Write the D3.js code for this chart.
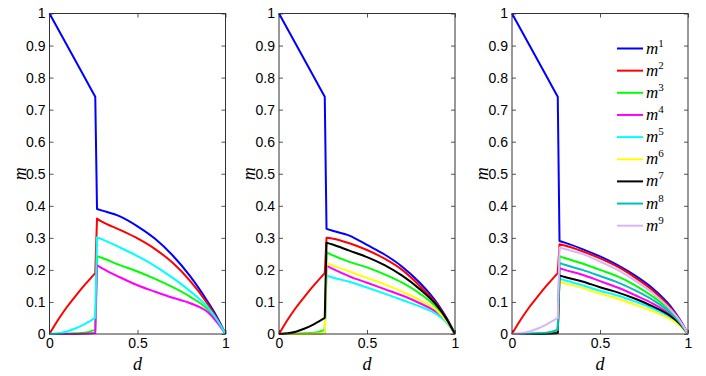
<!DOCTYPE html>
<html>
<head>
<meta charset="utf-8">
<script src="https://cdn.jsdelivr.net/npm/d3@7"></script>
<style>
  body { margin: 0; background: #fff; }
  svg { display: block; }
  .tick text { font-family: "Liberation Sans", Arial, sans-serif; font-size: 14px; fill: #000; }
  .lab { font-family: "Liberation Serif", "DejaVu Serif", serif; font-style: italic; font-size: 18px; }
  .leg { font-family: "Liberation Serif", "DejaVu Serif", serif; font-style: italic; font-size: 17px; }
</style>
</head>
<body>
<svg id="chart" width="706" height="376"></svg>
<script>
// ось d: до скачка и после
const dPre = [0, 0.05, 0.1, 0.15, 0.2, 0.26];
const dPost = [0.27, 0.3, 0.4, 0.5, 0.6, 0.7, 0.8, 0.9, 0.95, 1];
const xTicks = [0, 0.5, 1];
const yTicks = [0, 0.1, 0.2, 0.3, 0.4, 0.5, 0.6, 0.7, 0.8, 0.9, 1];

// общие начала кривых (до скачка)
const m1Pre = [1, 0.95, 0.9, 0.85, 0.8, 0.74];
const m2Pre = [0, 0.045, 0.085, 0.12, 0.153, 0.19];
const lowPre = [0, 0.002, 0.008, 0.018, 0.031, 0.05];
const flatPre = [0, 0, 0.001, 0.002, 0.004, 0.013];
const zeroPre = [0, 0, 0, 0, 0.001, 0.003];

// панель 1
const p1m1 = [0.39, 0.385, 0.367, 0.336, 0.297, 0.245, 0.18, 0.1, 0.055, 0];
const p1m2 = [0.36, 0.35, 0.325, 0.298, 0.265, 0.222, 0.165, 0.093, 0.05, 0];
const p1m3 = [0.243, 0.237, 0.215, 0.195, 0.172, 0.146, 0.116, 0.076, 0.043, 0];
const p1m4 = [0.215, 0.205, 0.177, 0.152, 0.132, 0.113, 0.096, 0.068, 0.038, 0];
const p1m5 = [0.302, 0.295, 0.27, 0.243, 0.212, 0.175, 0.133, 0.083, 0.046, 0];

// панель 2
const p2m1 = [0.328, 0.323, 0.307, 0.278, 0.248, 0.21, 0.16, 0.095, 0.052, 0];
const p2m2 = [0.3, 0.298, 0.283, 0.262, 0.235, 0.2, 0.15, 0.09, 0.05, 0];
const p2m3 = [0.255, 0.247, 0.225, 0.208, 0.186, 0.16, 0.126, 0.08, 0.045, 0];
const p2m4 = [0.213, 0.205, 0.18, 0.16, 0.14, 0.12, 0.096, 0.066, 0.04, 0];
const p2m5 = [0.183, 0.177, 0.163, 0.145, 0.126, 0.106, 0.086, 0.06, 0.037, 0];
const p2m6 = [0.222, 0.215, 0.195, 0.175, 0.155, 0.132, 0.106, 0.072, 0.042, 0];
const p2m7 = [0.285, 0.28, 0.26, 0.24, 0.215, 0.182, 0.14, 0.087, 0.048, 0];

// панель 3
const p3m1 = [0.29, 0.285, 0.265, 0.242, 0.215, 0.182, 0.142, 0.087, 0.048, 0];
const p3m2 = [0.28, 0.276, 0.258, 0.236, 0.21, 0.176, 0.136, 0.082, 0.046, 0];
const p3m3 = [0.243, 0.237, 0.22, 0.2, 0.18, 0.152, 0.117, 0.072, 0.041, 0];
const p3m4 = [0.205, 0.2, 0.185, 0.165, 0.145, 0.121, 0.095, 0.06, 0.035, 0];
const p3m5 = [0.172, 0.168, 0.152, 0.135, 0.12, 0.101, 0.08, 0.051, 0.03, 0];
const p3m6 = [0.163, 0.158, 0.144, 0.126, 0.11, 0.091, 0.071, 0.046, 0.028, 0];
const p3m7 = [0.183, 0.178, 0.164, 0.146, 0.13, 0.11, 0.086, 0.056, 0.033, 0];
const p3m8 = [0.222, 0.216, 0.2, 0.181, 0.161, 0.136, 0.106, 0.066, 0.038, 0];
const p3m9 = [0.27, 0.265, 0.25, 0.226, 0.2, 0.166, 0.127, 0.077, 0.044, 0];

const colors = ["#0000ff", "#ff0000", "#00ff00", "#ff00ff", "#00ffff", "#ffff00", "#000000", "#00bfbf", "#d8b4fc"];
const legendNames = ["1", "2", "3", "4", "5", "6", "7", "8", "9"];

const panels = [
  { left: 49.5, series: [[m1Pre, p1m1], [m2Pre, p1m2], [flatPre, p1m3], [zeroPre, p1m4], [lowPre, p1m5]] },
  { left: 279, series: [[m1Pre, p2m1], [m2Pre, p2m2], [flatPre, p2m3], [zeroPre, p2m4], [zeroPre, p2m5], [zeroPre, p2m6], [lowPre, p2m7]] },
  { left: 512, series: [[m1Pre, p3m1], [m2Pre, p3m2], [flatPre, p3m3], [zeroPre, p3m4], [zeroPre, p3m5], [zeroPre, p3m6], [zeroPre, p3m7], [flatPre, p3m8], [lowPre, p3m9]] }
];

const width = 176, height = 320.5, topY = 13.5;
const svg = d3.select("#chart");

const x = d3.scaleLinear().domain([0, 1]).range([0, width]);
const y = d3.scaleLinear().domain([0, 1]).range([height, 0]);

const line = d3.line()
  .x((d) => x(d.d))
  .y((d) => y(d.m))
  .curve(d3.curveMonotoneX);

panels.forEach((p, pi) => {
  const g = svg.append("g").attr("transform", `translate(${p.left},${topY})`);

  // оси в стиле MATLAB: засечки внутрь
  g.append("g").attr("transform", `translate(0,${height})`)
    .call(d3.axisBottom(x).tickValues(xTicks).tickSizeInner(-4).tickSizeOuter(0).tickPadding(4).tickFormat(d3.format("")));
  g.append("g")
    .call(d3.axisTop(x).tickValues(xTicks).tickSizeInner(-4).tickSizeOuter(0).tickFormat(""));
  g.append("g")
    .call(d3.axisLeft(y).tickValues(yTicks).tickSizeInner(-4).tickSizeOuter(0).tickPadding(4).tickFormat(d3.format("")));
  g.append("g").attr("transform", `translate(${width},0)`)
    .call(d3.axisRight(y).tickValues(yTicks).tickSizeInner(-4).tickSizeOuter(0).tickFormat(""));
  g.selectAll(".domain").remove();
  g.selectAll(".tick line").attr("stroke", "#555");

  // линии: гладкие участки до и после скачка, сам скачок прямой
  p.series.forEach((s, i) => {
    const pre = dPre.map((d, k) => ({ d: d, m: s[0][k] }));
    const post = dPost.map((d, k) => ({ d: d, m: s[1][k] }));
    const path = line(pre) + line(post).replace(/^M/, "L");
    g.append("path")
      .attr("fill", "none")
      .attr("stroke", colors[i])
      .attr("stroke-width", 2)
      .attr("stroke-linejoin", "round")
      .attr("d", path);
  });

  g.append("rect")
    .attr("width", width).attr("height", height)
    .attr("fill", "none").attr("stroke", "#333").attr("stroke-width", 1);

  g.append("text").attr("class", "lab")
    .attr("x", width / 2).attr("y", height + 35.5)
    .attr("text-anchor", "middle").text("d");
  g.append("text").attr("class", "lab")
    .attr("transform", `translate(-24,${height / 2}) rotate(-90)`)
    .attr("text-anchor", "middle").text("m");

  // легенда только на третьей панели
  if (pi === 2) {
    const leg = g.append("g").attr("transform", `translate(${width - 71},35)`);
    legendNames.forEach((n, i) => {
      const row = leg.append("g").attr("transform", `translate(0,${i * 22.15})`);
      row.append("line").attr("x1", 0).attr("x2", 26)
        .attr("stroke", colors[i]).attr("stroke-width", 2);
      const t = row.append("text").attr("class", "leg").attr("x", 29).attr("y", 5);
      t.append("tspan").text("m");
      t.append("tspan").attr("dy", -7).attr("font-size", 11).attr("font-style", "normal").text(n);
    });
  }
});
</script>
</body>
</html>
